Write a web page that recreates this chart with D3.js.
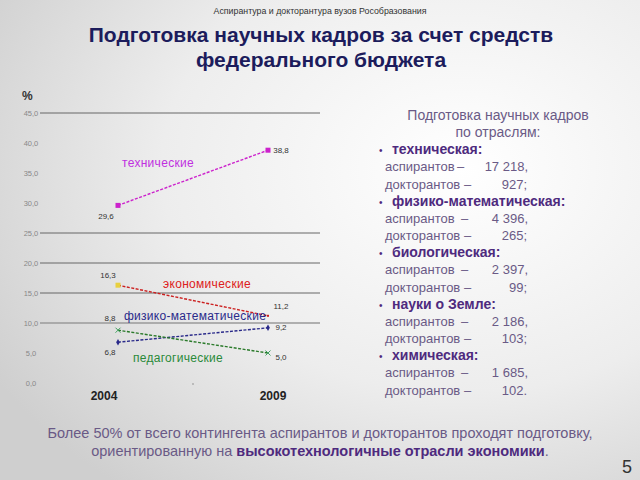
<!DOCTYPE html>
<html>
<head>
<meta charset="utf-8">
<script src="https://cdn.jsdelivr.net/npm/d3@7/dist/d3.min.js"></script>
<style>
  html, body { margin: 0; padding: 0; }
  svg { display: block; }
</style>
</head>
<body>
<svg id="chart" width="640" height="480"></svg>
<script>
// Data
const years = ['2004', '2009'];
const yTicks = [0, 5, 10, 15, 20, 25, 30, 35, 40, 45];
const gridValues = [45, 25, 20, 15, 10];
const seriesNames = ['технические', 'экономические', 'физико-математические', 'педагогические'];
const techValues = [29.6, 38.8];
const econValues = [16.3, 11.2];
const physValues = [6.8, 9.2];
const pedValues = [8.8, 5.0];

const sideHeader = ['Подготовка научных кадров', 'по отраслям:'];
const branches = ['техническая:', 'физико-математическая:', 'биологическая:', 'науки о Земле:', 'химическая:'];
const aspirants = ['17 218', '4 396', '2 397', '2 186', '1 685'];
const doctorants = ['927', '265', '99', '103', '102'];

const svg = d3.select('#chart');
const font = 'Liberation Sans, Arial, sans-serif';

// Background gradient
const defs = svg.append('defs');
const bg = defs.append('radialGradient')
  .attr('id', 'bg')
  .attr('cx', '0.72').attr('cy', '0.35').attr('r', '0.85');
bg.append('stop').attr('offset', '0%').attr('stop-color', '#ffffff');
bg.append('stop').attr('offset', '55%').attr('stop-color', '#ededed');
bg.append('stop').attr('offset', '100%').attr('stop-color', '#cfcfcf');
svg.append('rect').attr('width', 640).attr('height', 480).attr('fill', 'url(#bg)');

// Titles
svg.append('text')
  .attr('x', 320).attr('y', 14)
  .attr('text-anchor', 'middle')
  .attr('font-family', font)
  .attr('font-size', 8.8)
  .attr('fill', '#333')
  .text('Аспирантура и докторантура вузов Рособразования');

const title = svg.append('text')
  .attr('text-anchor', 'middle')
  .attr('font-family', font)
  .attr('font-size', 21)
  .attr('font-weight', 'bold')
  .attr('fill', '#1c1c5c');
title.append('tspan').attr('x', 321).attr('y', 42).text('Подготовка научных кадров за счет средств');
title.append('tspan').attr('x', 321).attr('y', 67).text('федерального бюджета');

// Scales
const x = d3.scalePoint().domain(years).range([118, 268]);
const y = d3.scaleLinear().domain([0, 45]).range([383, 113]);

// Grid lines
svg.append('g')
  .selectAll('line')
  .data(gridValues)
  .join('line')
  .attr('x1', 40).attr('x2', 320)
  .attr('y1', (d) => y(d)).attr('y2', (d) => y(d))
  .attr('stroke', (d) => (d === 10 ? '#9a9a9a' : '#666'))
  .attr('stroke-width', (d) => (d === 10 ? 1.6 : 1));

// Y axis labels
svg.append('g')
  .selectAll('text')
  .data(yTicks)
  .join('text')
  .attr('x', 31).attr('y', (d) => y(d) + 3)
  .attr('text-anchor', 'middle')
  .attr('font-family', font)
  .attr('font-size', 7.5)
  .attr('fill', '#888')
  .text((d) => d3.format('.1f')(d).replace('.', ','));

svg.append('text')
  .attr('x', 22).attr('y', 100)
  .attr('font-family', font)
  .attr('font-size', 12)
  .attr('font-weight', 'bold')
  .attr('fill', '#333')
  .text('%');

// X labels (slightly off the point positions, as on the slide)
const yearShift = [-14, 5];
svg.append('g')
  .selectAll('text')
  .data(years)
  .join('text')
  .attr('x', (d, i) => x(d) + yearShift[i]).attr('y', 400)
  .attr('text-anchor', 'middle')
  .attr('font-family', font)
  .attr('font-size', 12)
  .attr('font-weight', 'bold')
  .attr('fill', '#222')
  .text((d) => d);

svg.append('circle')
  .attr('cx', 193).attr('cy', 384).attr('r', 0.7)
  .attr('fill', '#777');

// Series
const series = [
  { name: seriesNames[0], values: techValues, color: '#cc22cc', textColor: '#c030e0', marker: 'square',
    markerColor: '#cc22cc', labelPos: [[-12, 14], [13, 3]], namePos: [158, 167] },
  { name: seriesNames[1], values: econValues, color: '#cc2020', textColor: '#dd2020', marker: 'square',
    markerColor: '#e8d040', labelPos: [[-10, -7], [13, -7]], namePos: [207, 288] },
  { name: seriesNames[2], values: physValues, color: '#2a2a8a', textColor: '#2a2a8a', marker: 'diamond',
    markerColor: '#2a2a8a', labelPos: [[-8, 13], [13, 2]], namePos: [195, 320] },
  { name: seriesNames[3], values: pedValues, color: '#2a7a2a', textColor: '#2a8a3a', marker: 'cross',
    markerColor: '#40a060', labelPos: [[-8, -9], [13, 7]], namePos: [178, 362] }
];

const fmt = (v) => d3.format('.1f')(v).replace('.', ',');

const line = d3.line()
  .x((d, i) => x(years[i]))
  .y((d) => y(d));

series.forEach((s, si) => {
  const g = svg.append('g');

  g.append('path')
    .attr('d', line(s.values))
    .attr('fill', 'none')
    .attr('stroke', s.color)
    .attr('stroke-width', 1.4)
    .attr('stroke-dasharray', '3,1.5');

  s.values.forEach((v, i) => {
    const cx = x(years[i]);
    const cy = y(v);
    if (s.marker === 'square') {
      const size = si === 1 && i === 1 ? 2 : 5;
      g.append('rect')
        .attr('x', cx - size / 2).attr('y', cy - size / 2)
        .attr('width', size).attr('height', size)
        .attr('fill', i === 0 ? s.markerColor : s.color);
    } else if (s.marker === 'diamond') {
      g.append('path')
        .attr('d', d3.symbol().type(d3.symbolDiamond).size(12)())
        .attr('transform', `translate(${cx},${cy})`)
        .attr('fill', s.markerColor);
    } else {
      g.append('path')
        .attr('d', `M${cx - 2.5},${cy - 2.5}L${cx + 2.5},${cy + 2.5}M${cx - 2.5},${cy + 2.5}L${cx + 2.5},${cy - 2.5}`)
        .attr('stroke', s.markerColor)
        .attr('stroke-width', 1);
    }

    g.append('text')
      .attr('x', cx + s.labelPos[i][0]).attr('y', cy + s.labelPos[i][1])
      .attr('text-anchor', 'middle')
      .attr('font-family', font)
      .attr('font-size', 8)
      .attr('fill', '#333')
      .text(fmt(v));
  });

  g.append('text')
    .attr('x', s.namePos[0]).attr('y', s.namePos[1])
    .attr('text-anchor', 'middle')
    .attr('font-family', font)
    .attr('font-size', 12)
    .attr('letter-spacing', 0.3)
    .attr('fill', s.textColor)
    .text(s.name);
});

// Side text
const textColor = '#6a5a86';
const boldColor = '#4e2a7e';
const side = svg.append('g')
  .attr('font-family', font)
  .attr('font-size', 13);

sideHeader.forEach((t, i) => {
  side.append('text')
    .attr('x', 498).attr('y', 120 + i * 17)
    .attr('text-anchor', 'middle')
    .attr('font-size', 14)
    .attr('fill', textColor)
    .text(t);
});

branches.forEach((b, i) => {
  const top = 154 + i * 51.5;
  side.append('text')
    .attr('x', 379).attr('y', top)
    .attr('fill', boldColor)
    .attr('font-size', 10)
    .text('•');
  side.append('text')
    .attr('x', 392).attr('y', top)
    .attr('fill', boldColor)
    .attr('font-weight', 'bold')
    .attr('font-size', 14)
    .text(b);
  side.append('text')
    .attr('x', 385).attr('y', top + 17.3)
    .attr('fill', textColor)
    .text('аспирантов');
  side.append('text')
    .attr('x', i === 0 ? 457 : 461).attr('y', top + 17.3)
    .attr('fill', textColor)
    .text('–');
  side.append('text')
    .attr('x', 528).attr('y', top + 17.3)
    .attr('text-anchor', 'end')
    .attr('fill', textColor)
    .text(aspirants[i] + ',');
  side.append('text')
    .attr('x', 385).attr('y', top + 34.5)
    .attr('fill', textColor)
    .text('докторантов –');
  side.append('text')
    .attr('x', 527).attr('y', top + 34.5)
    .attr('text-anchor', 'end')
    .attr('fill', textColor)
    .text(doctorants[i] + (i === branches.length - 1 ? '.' : ';'));
});

// Bottom text
const bottom = svg.append('text')
  .attr('text-anchor', 'middle')
  .attr('font-family', font)
  .attr('font-size', 14.5)
  .attr('fill', textColor);
bottom.append('tspan').attr('x', 320).attr('y', 438)
  .text('Более 50% от всего контингента аспирантов и докторантов проходят подготовку,');
const b2 = bottom.append('tspan').attr('x', 320).attr('y', 456);
b2.append('tspan').text('ориентированную на ');
b2.append('tspan').attr('font-weight', 'bold').attr('fill', boldColor).text('высокотехнологичные отрасли экономики');
b2.append('tspan').text('.');

svg.append('text')
  .attr('x', 632).attr('y', 473)
  .attr('text-anchor', 'end')
  .attr('font-family', font)
  .attr('font-size', 18)
  .attr('fill', '#333')
  .text('5');
</script>
</body>
</html>
